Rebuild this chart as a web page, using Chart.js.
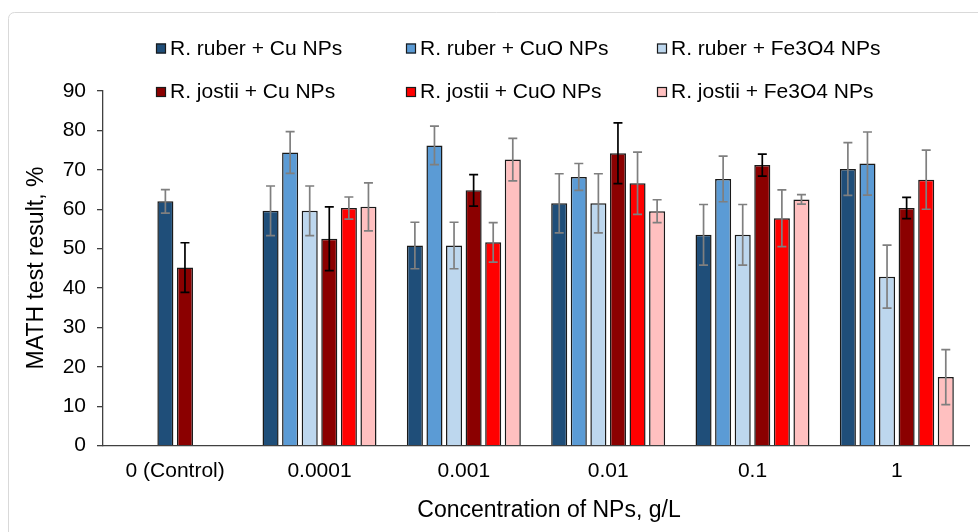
<!DOCTYPE html>
<html>
<head>
<meta charset="utf-8">
<script src="https://cdn.jsdelivr.net/npm/chart.js@4/dist/chart.umd.min.js"></script>
<style>
  html, body { margin: 0; padding: 0; background: #ffffff; }
  #wrap { width: 978px; height: 532px; position: relative; }
</style>
</head>
<body>
<div id="wrap"><canvas id="c" width="978" height="532"></canvas></div>
<script>
// ---- Data ----
const categories = ['0 (Control)', '0.0001', '0.001', '0.01', '0.1', '1'];
const seriesNames = [
  'R. ruber + Cu NPs', 'R. ruber + CuO NPs', 'R. ruber + Fe3O4 NPs',
  'R. jostii + Cu NPs', 'R. jostii + CuO NPs', 'R. jostii + Fe3O4 NPs'
];
const ruberCu     = [null, 59.6, 50.8, 61.5, 53.5, 70.2];
const ruberCuO    = [null, 74.4, 76.2, 68.2, 67.7, 71.6];
const ruberFe3O4  = [62.0, 59.6, 50.8, 61.5, 53.5, 42.9];
const jostiiCu    = [45.2, 52.5, 64.8, 74.2, 71.2, 60.3];
const jostiiCuO   = [null, 60.3, 51.6, 66.6, 57.7, 67.5];
const jostiiFe3O4 = [null, 60.6, 72.6, 59.5, 62.5, 17.4];

const ruberCuErr     = [null, 6.3, 5.9, 7.5, 7.7, 6.7];
const ruberCuOErr    = [null, 5.3, 4.9, 3.4, 5.8, 8.0];
const ruberFe3O4Err  = [3.0, 6.3, 5.9, 7.5, 7.7, 8.0];
const jostiiCuErr    = [6.3, 8.1, 4.0, 7.7, 2.8, 2.7];
const jostiiCuOErr   = [null, 2.8, 5.0, 7.9, 7.2, 7.5];
const jostiiFe3O4Err = [null, 6.1, 5.4, 2.9, 1.2, 7.0];

const yTicks = [0, 10, 20, 30, 40, 50, 60, 70, 80, 90];
const xTitle = 'Concentration of NPs, g/L';
const yTitle = 'MATH test result, %';

// ---- Styles ----
const FONT = "'Liberation Sans', Arial, sans-serif";
const colors = ['#1F4E79', '#5B9BD5', '#BDD7EE', '#8B0000', '#FF0000', '#FFC0C0'];
const errColors = ['#7F7F7F', '#7F7F7F', '#7F7F7F', '#000000', '#7F7F7F', '#7F7F7F'];
const values = [ruberCu, ruberCuO, ruberFe3O4, jostiiCu, jostiiCuO, jostiiFe3O4];
const errors = [ruberCuErr, ruberCuOErr, ruberFe3O4Err, jostiiCuErr, jostiiCuOErr, jostiiFe3O4Err];

const datasets = values.map((v, i) => ({
  label: seriesNames[i],
  data: v,
  errors: errors[i],
  // the control bar plotted in the 3rd slot is the R. ruber control (dark blue)
  backgroundColor: i === 2 ? (ctx => ctx.dataIndex === 0 ? colors[0] : colors[2]) : colors[i],
  borderColor: '#1A1A1A',
  borderWidth: 1.5,
  categoryPercentage: 0.814,
  barPercentage: 0.82
}));

const errorBars = {
  id: 'errorBars',
  afterDatasetsDraw(chart) {
    const ctx = chart.ctx;
    const ys = chart.scales.y;
    chart.data.datasets.forEach((ds, i) => {
      const meta = chart.getDatasetMeta(i);
      meta.data.forEach((bar, j) => {
        const v = ds.data[j], e = ds.errors[j];
        if (v == null || e == null) return;
        const x = bar.x;
        const yTop = ys.getPixelForValue(v + e);
        const yBot = ys.getPixelForValue(v - e);
        ctx.save();
        ctx.strokeStyle = errColors[i];
        ctx.lineWidth = 1.7;
        ctx.beginPath();
        ctx.moveTo(x, yTop); ctx.lineTo(x, yBot);
        ctx.moveTo(x - 4.5, yTop); ctx.lineTo(x + 4.5, yTop);
        ctx.moveTo(x - 4.5, yBot); ctx.lineTo(x + 4.5, yBot);
        ctx.stroke();
        ctx.restore();
      });
    });
  }
};

const customLegend = {
  id: 'customLegend',
  afterDraw(chart) {
    const ctx = chart.ctx;
    const colX = [156, 406, 657];
    const rowY = [48, 91.5];
    ctx.save();
    ctx.font = '21px ' + FONT;
    ctx.textBaseline = 'middle';
    ctx.textAlign = 'left';
    chart.data.datasets.forEach((ds, i) => {
      const cx = colX[i % 3], cy = rowY[Math.floor(i / 3)];
      ctx.fillStyle = colors[i];
      ctx.fillRect(cx, cy - 4.5, 10, 10);
      ctx.strokeStyle = '#1A1A1A';
      ctx.lineWidth = 1.2;
      ctx.strokeRect(cx + 0.5, cy - 4, 9, 9);
      ctx.fillStyle = '#000000';
      ctx.fillText(ds.label, cx + 14, cy + 1);
    });
    ctx.restore();
  }
};

const axisTitles = {
  id: 'axisTitles',
  afterDraw(chart) {
    const ctx = chart.ctx;
    ctx.save();
    ctx.font = '23px ' + FONT;
    ctx.fillStyle = '#000000';
    ctx.textAlign = 'center';
    ctx.textBaseline = 'middle';
    ctx.fillText(xTitle, 549, 511);
    ctx.translate(37, 268);
    ctx.rotate(-Math.PI / 2);
    ctx.fillText(yTitle, 0, 0);
    ctx.restore();
  }
};

const frame = {
  id: 'frame',
  beforeDraw(chart) {
    const ctx = chart.ctx;
    ctx.save();
    ctx.fillStyle = '#ffffff';
    ctx.fillRect(0, 0, chart.width, chart.height);
    ctx.strokeStyle = '#D9D9D9';
    ctx.lineWidth = 1;
    ctx.beginPath();
    ctx.roundRect(8.5, 12.5, 1000, 560, 6);
    ctx.stroke();
    ctx.restore();
  }
};

new Chart(document.getElementById('c'), {
  type: 'bar',
  data: { labels: categories, datasets },
  options: {
    responsive: false,
    animation: false,
    layout: { padding: { left: 0, right: 9, top: 91, bottom: 0 } },
    plugins: { legend: { display: false }, tooltip: { enabled: false } },
    scales: {
      x: {
        grid: { display: true, drawOnChartArea: false, drawTicks: false },
        border: { display: true, color: '#404040', width: 1.3 },
        ticks: { color: '#000000', font: { family: FONT, size: 21 }, padding: 13, maxRotation: 0 },
        afterFit(scale) { scale.height = 532 - 445.7; }
      },
      y: {
        min: 0, max: 90,
        afterBuildTicks(scale) { scale.ticks = yTicks.map(v => ({ value: v })); },
        grid: { display: true, drawOnChartArea: false, drawTicks: true, tickLength: 6, color: '#404040', lineWidth: 1.3 },
        border: { display: true, color: '#404040', width: 1.3 },
        ticks: { color: '#000000', font: { family: FONT, size: 21 }, padding: 11 },
        afterFit(scale) { scale.width = 103; }
      }
    }
  },
  plugins: [frame, errorBars, customLegend, axisTitles]
});
</script>
</body>
</html>
